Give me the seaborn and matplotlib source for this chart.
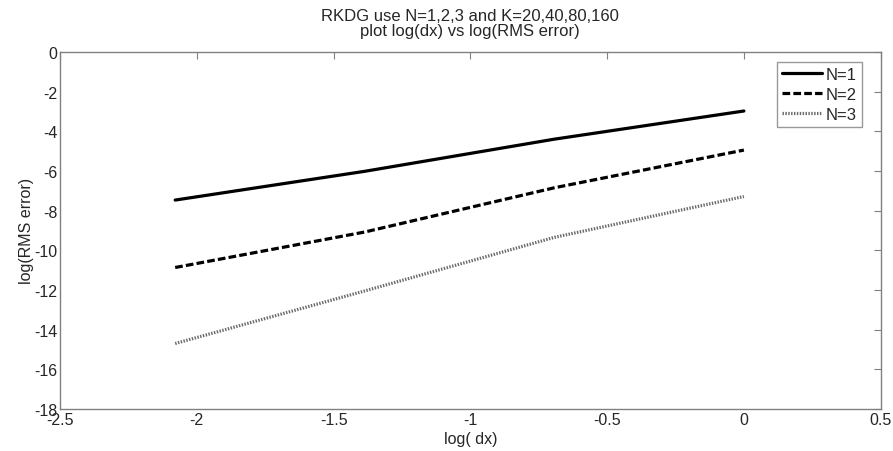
import numpy as np
import pandas as pd
import matplotlib
matplotlib.use("Agg")
import matplotlib.pyplot as plt
import seaborn as sns

# log(dx) for K = 20, 40, 80, 160 (dx relative to K=20)
log_dx = [-2.079, -1.386, -0.693, 0.0]
err_n1 = [-7.47, -6.02, -4.40, -2.98]
err_n2 = [-10.87, -9.08, -6.85, -4.95]
err_n3 = [-14.70, -12.05, -9.35, -7.29]
series_labels = ["N=1", "N=2", "N=3"]

sns.set_style("white")
plt.rcParams["font.family"] = ["Liberation Sans", "DejaVu Sans"]

fig = plt.figure(figsize=(8.93, 4.52), dpi=100)
ax = fig.add_axes([0.0672, 0.093, 0.919, 0.790])

styles = [
    dict(color="black", linestyle="-", linewidth=2.3),
    dict(color="black", linestyle=(0, (2.4, 1.0)), linewidth=2.3),
    dict(color="#6a6a6a", linestyle=(0, (0.45, 0.45)), linewidth=2.3),
]
for vals, lab, st in zip([err_n1, err_n2, err_n3], series_labels, styles):
    df = pd.DataFrame({"log(dx)": log_dx, "err": vals})
    sns.lineplot(data=df, x="log(dx)", y="err", ax=ax, label=lab, **st)

ax.set_xlim(-2.5, 0.5)
ax.set_ylim(-18, 0)
ax.set_xticks(np.arange(-2.5, 0.51, 0.5))
ax.set_xticklabels(["-2.5", "-2", "-1.5", "-1", "-0.5", "0", "0.5"])
ax.set_yticks(np.arange(-18, 0.1, 2))
ax.set_yticklabels([str(v) for v in range(-18, 1, 2)])
ax.tick_params(direction="in", top=True, right=True, length=5, width=0.8,
               color="#808080", labelsize=11.5, pad=2)
for sp in ax.spines.values():
    sp.set_color("#808080")
    sp.set_linewidth(1.0)

ax.set_xlabel("log( dx)", fontsize=11.5, labelpad=3)
ax.set_ylabel("log(RMS error)", fontsize=11.5, labelpad=0)
ax.set_title("RKDG use N=1,2,3 and K=20,40,80,160\nplot log(dx) vs log(RMS error)",
             fontsize=12, pad=12, linespacing=1.05)

leg = ax.legend(loc="upper right", bbox_to_anchor=(0.977, 0.973),
                fontsize=12, frameon=True, fancybox=False,
                handlelength=2.4, handletextpad=0.2, borderpad=0.3,
                labelspacing=0.3, borderaxespad=0.0)
leg.get_frame().set_edgecolor("#808080")
leg.get_frame().set_linewidth(1.0)

fig.savefig("out.png", dpi=100)
